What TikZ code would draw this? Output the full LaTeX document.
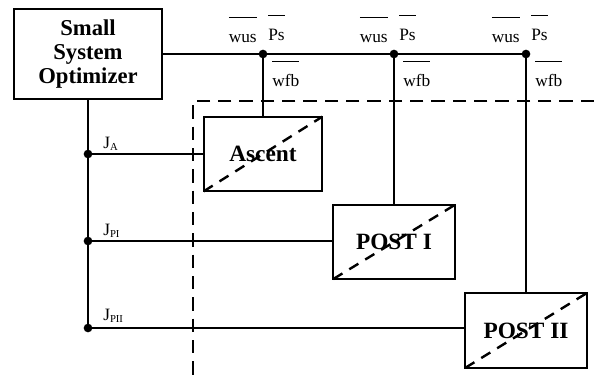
\documentclass[tikz,border=0pt]{standalone}
\usepackage{fontspec}
\setmainfont{Liberation Serif}
\usetikzlibrary{positioning, calc}

% overbarred label
\newcommand{\ovl}[1]{\vbox{\hrule height 1.1pt\kern 8pt\hbox{\strut #1}}}

\begin{document}
\begin{tikzpicture}[
        x=0.75pt, y=-0.75pt,
        box/.style={draw, line width=1.5pt, inner sep=0pt, outer sep=0pt, align=center, font=\fontsize{17.5}{18}\selectfont\bfseries},
        wire/.style={line width=1.3pt},
        zone/.style={line width=1.6pt, dash pattern=on 10pt off 6pt},
        cross/.style={line width=1.8pt, dash pattern=on 8pt off 6pt},
        dot/.style={circle, fill, inner sep=0pt, minimum size=6.5pt},
        lbl/.style={inner sep=0pt, font=\fontsize{13}{14}\selectfont}
    ]
    \useasboundingbox (0,0) rectangle (594,379);

    % Dashed zone
    \draw[zone] (594,101) -- (193,101) -- (193,379);

    % Blocks
    \node[box, minimum width=111pt, minimum height=67.5pt, font=\fontsize{17}{18}\selectfont\bfseries] (opt) at (88,54) {Small\\System\\Optimizer};
    \node[box, minimum width=89pt, minimum height=56pt]   (asc)   at (263,154)   {Ascent};
    \node[box, minimum width=91pt, minimum height=55.5pt] (post1) at (394,242)   {POST I};
    \node[box, minimum width=91pt, minimum height=56pt]   (post2) at (526,330.5) {POST II};

    % Dashed diagonals
    \foreach \b in {asc, post1, post2}
        \draw[cross] (\b.south west) -- (\b.north east);

    % Junctions
    \foreach \n/\x in {t1/263, t2/394, t3/526}
        \node[dot] (\n) at (\x,54) {};
    \foreach \n/\y in {jA/154, jP1/241, jP2/328}
        \node[dot] (\n) at (88,\y) {};

    % Top bus
    \draw[wire] (opt.east) -- (t3.center);
    \draw[wire] (t1.center) -- (asc.north);
    \draw[wire] (t2.center) -- (post1.north);
    \draw[wire] (t3.center) -- (post2.north);

    % Left bus
    \draw[wire] (opt.south) -- (jP2.center);
    \draw[wire] (jA.center) -- (jA -| asc.west);
    \draw[wire] (jP1.center) -- (jP1 -| post1.west);
    \draw[wire] (jP2.center) -- (jP2 -| post2.west);

    % Bus labels
    \foreach \n in {t1, t2, t3} {
        \node[lbl, anchor=base east] (wus\n) at ($(\n)+(-6,-12)$) {\ovl{wus}};
        \node[lbl, anchor=base west] (ps\n)  at ($(\n)+(5,-14)$)  {\ovl{Ps}};
        \node[lbl, anchor=base west] (wfb\n) at ($(\n)+(9,32)$)   {\ovl{wfb}};
    }

    % Cost labels
    \node[lbl, anchor=base west] (lA)  at ($(jA)+(15,-6)$)  {J\raisebox{-2pt}{\footnotesize A}};
    \node[lbl, anchor=base west] (lP1) at ($(jP1)+(15,-6)$) {J\raisebox{-2pt}{\footnotesize PI}};
    \node[lbl, anchor=base west] (lP2) at ($(jP2)+(15,-8)$) {J\raisebox{-2pt}{\footnotesize PII}};

\end{tikzpicture}
\end{document}
